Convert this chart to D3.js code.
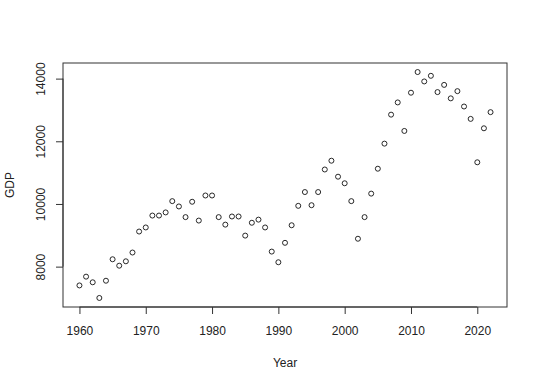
<!DOCTYPE html>
<html>
<head>
<meta charset="utf-8">
<script src="https://cdn.jsdelivr.net/npm/d3@7"></script>
<style>
  body { margin: 0; background: #fff; }
  svg { display: block; font-family: "Liberation Sans", Arial, sans-serif; }
  .dot { fill: none; stroke: #111; stroke-width: 0.9; }
</style>
</head>
<body>
<div id="chart"></div>
<script>
// GDP per year
const years = d3.range(1960, 2023)
const gdp = [
  7400, 7680, 7500, 7000, 7550, 8235, 8030, 8170, 8450, 9120,
  9250, 9630, 9630, 9730, 10090, 9920, 9580, 10070, 9470, 10270,
  10270, 9580, 9340, 9600, 9600, 8990, 9400, 9500, 9250, 8480,
  8140, 8760, 9320, 9940, 10380, 9960, 10380, 11100, 11380, 10870,
  10660, 10090, 8890, 9580, 10330, 11125, 11925, 12850, 13240, 12330,
  13550, 14210, 13910, 14090, 13570, 13800, 13370, 13600, 13110, 12715,
  11330, 12415, 12930
]
const xTicks = [1960, 1970, 1980, 1990, 2000, 2010, 2020]
const yTicks = [8000, 10000, 12000, 14000]

const data = years.map((y, i) => ({year: y, gdp: gdp[i]}))

const W = 540, H = 386
const margin = {left: 63, right: 33, top: 63, bottom: 79}
const width = W - margin.left - margin.right
const height = H - margin.top - margin.bottom

// R style: pad the data range by 4% on each side
function pad(ext) {
  const d = (ext[1] - ext[0]) * 0.04
  return [ext[0] - d, ext[1] + d]
}

const x = d3.scaleLinear().domain(pad(d3.extent(years))).range([0, width])
const y = d3.scaleLinear().domain(pad(d3.extent(gdp))).range([height, 0])

const svg = d3.select("#chart").append("svg")
    .attr("width", W).attr("height", H)

const g = svg.append("g")
    .attr("transform", `translate(${margin.left},${margin.top})`)

g.append("rect")
    .attr("width", width).attr("height", height)
    .attr("fill", "none").attr("stroke", "#333").attr("stroke-width", 1)

const xAxis = g.append("g")
    .attr("transform", `translate(0,${height})`)
    .call(d3.axisBottom(x).tickValues(xTicks).tickFormat(d3.format("d"))
      .tickSize(7).tickPadding(12))
const yAxis = g.append("g")
    .call(d3.axisLeft(y).tickValues(yTicks).tickFormat(d3.format("d"))
      .tickSize(7).tickPadding(0))

// axis lines follow the ticks' span only, like R's axis()
xAxis.select(".domain")
    .attr("d", `M${x(xTicks[0])},0H${x(xTicks[xTicks.length - 1])}`)
yAxis.select(".domain")
    .attr("d", `M0,${y(yTicks[0])}V${y(yTicks[yTicks.length - 1])}`)

svg.selectAll(".tick line, .domain").attr("stroke", "#333")
svg.selectAll(".tick text").attr("fill", "#222").style("font-size", "12px")

yAxis.selectAll(".tick text")
    .attr("x", 0).attr("dy", 0)
    .attr("text-anchor", "middle")
    .attr("transform", "translate(-18,0) rotate(-90)")

g.selectAll("circle.dot")
  .data(data)
  .join("circle")
    .attr("class", "dot")
    .attr("cx", d => x(d.year))
    .attr("cy", d => y(d.gdp))
    .attr("r", 2.5)

svg.append("text")
    .attr("x", margin.left + width / 2).attr("y", 367)
    .attr("text-anchor", "middle").attr("fill", "#222")
    .style("font-size", "12px")
    .text("Year")

svg.append("text")
    .attr("transform", `translate(14,${margin.top + height / 2}) rotate(-90)`)
    .attr("text-anchor", "middle").attr("fill", "#222")
    .style("font-size", "12px")
    .text("GDP")
</script>
</body>
</html>
